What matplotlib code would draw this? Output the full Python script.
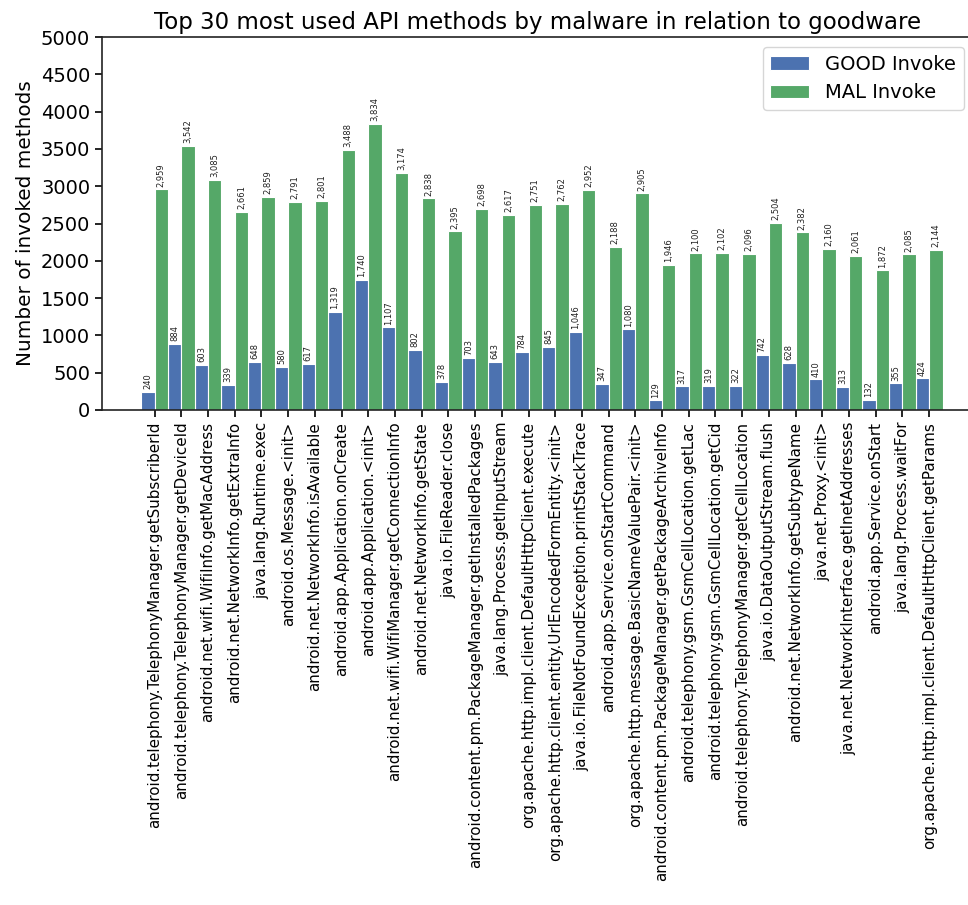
import matplotlib
matplotlib.use("Agg")
import matplotlib.pyplot as plt
import numpy as np

# data
methods = [
    "android.telephony.TelephonyManager.getSubscriberId",
    "android.telephony.TelephonyManager.getDeviceId",
    "android.net.wifi.WifiInfo.getMacAddress",
    "android.net.NetworkInfo.getExtraInfo",
    "java.lang.Runtime.exec",
    "android.os.Message.<init>",
    "android.net.NetworkInfo.isAvailable",
    "android.app.Application.onCreate",
    "android.app.Application.<init>",
    "android.net.wifi.WifiManager.getConnectionInfo",
    "android.net.NetworkInfo.getState",
    "java.io.FileReader.close",
    "android.content.pm.PackageManager.getInstalledPackages",
    "java.lang.Process.getInputStream",
    "org.apache.http.impl.client.DefaultHttpClient.execute",
    "org.apache.http.client.entity.UrlEncodedFormEntity.<init>",
    "java.io.FileNotFoundException.printStackTrace",
    "android.app.Service.onStartCommand",
    "org.apache.http.message.BasicNameValuePair.<init>",
    "android.content.pm.PackageManager.getPackageArchiveInfo",
    "android.telephony.gsm.GsmCellLocation.getLac",
    "android.telephony.gsm.GsmCellLocation.getCid",
    "android.telephony.TelephonyManager.getCellLocation",
    "java.io.DataOutputStream.flush",
    "android.net.NetworkInfo.getSubtypeName",
    "java.net.Proxy.<init>",
    "java.net.NetworkInterface.getInetAddresses",
    "android.app.Service.onStart",
    "java.lang.Process.waitFor",
    "org.apache.http.impl.client.DefaultHttpClient.getParams",
]
good_invoke = [240, 884, 603, 339, 648, 580, 617, 1319, 1740, 1107,
               802, 378, 703, 643, 784, 845, 1046, 347, 1080, 129,
               317, 319, 322, 742, 628, 410, 313, 132, 355, 424]
mal_invoke = [2959, 3542, 3085, 2661, 2859, 2791, 2801, 3488, 3834, 3174,
              2838, 2395, 2698, 2617, 2751, 2762, 2952, 2188, 2905, 1946,
              2100, 2102, 2096, 2504, 2382, 2160, 2061, 1872, 2085, 2144]

blue = "#4C72B0"
green = "#55A868"
w = 0.5

fig = plt.figure(figsize=(9.68, 9.05), dpi=100)
ax = fig.add_axes([0.1054, 0.547, 0.9, 0.412])

x = np.arange(len(methods))
b1 = ax.bar(x - w / 2, good_invoke, w, color=blue, edgecolor="white", linewidth=0.8, label="GOOD Invoke")
b2 = ax.bar(x + w / 2, mal_invoke, w, color=green, edgecolor="white", linewidth=0.8, label="MAL Invoke")

for bars in (b1, b2):
    for r in bars:
        h = r.get_height()
        ax.annotate("{:,}".format(int(h)), (r.get_x() + r.get_width() / 2, h),
                    xytext=(0, 2), textcoords="offset points",
                    ha="center", va="bottom", rotation=90, fontsize=6, color="#222222")

ax.set_xticks(x)
ax.set_xticklabels(methods, rotation=90, fontsize=10.9)
ax.set_xlim(-1.97, 30.65)
ax.set_ylim(0, 5000)
ax.set_yticks(np.arange(0, 5001, 500))
ax.tick_params(axis="y", labelsize=14, length=5, width=1.2)
ax.tick_params(axis="x", length=5, width=1.2)
ax.set_ylabel("Number of invoked methods", fontsize=14.4)
ax.set_title("Top 30 most used API methods by malware in relation to goodware", fontsize=16.5)

for s in ax.spines.values():
    s.set_linewidth(1.2)
    s.set_color("#222222")

ax.legend(loc="upper right", fontsize=14)

fig.savefig("out.png", dpi=100)
